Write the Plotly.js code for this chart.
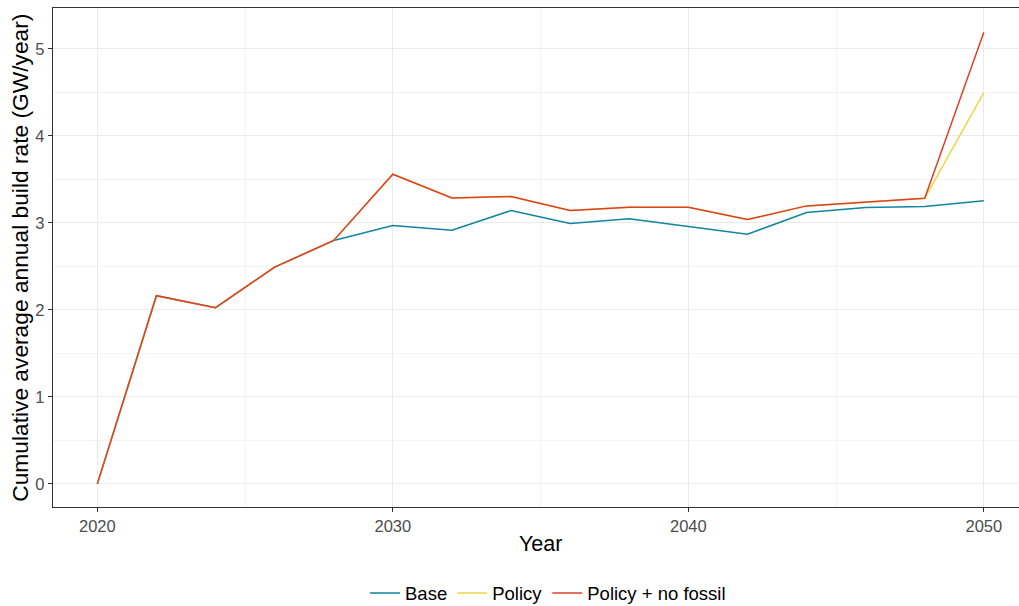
<!DOCTYPE html>
<html>
<head>
<meta charset="utf-8">
<script src="https://cdn.plot.ly/plotly-3.0.1.min.js"></script>
<style>html,body{margin:0;padding:0;background:#fff;}#chart{width:1019px;height:606px;}</style>
</head>
<body>
<div id="chart"></div>
<script>
const years = [2020, 2022, 2024, 2026, 2028, 2030, 2032, 2034, 2036, 2038, 2040, 2042, 2044, 2046, 2048, 2050];
const baseValues = [0, 2.163, 2.025, 2.492, 2.798, 2.970, 2.917, 3.142, 2.993, 3.047, 2.959, 2.871, 3.119, 3.177, 3.188, 3.254];
const policyValues = [0, 2.163, 2.025, 2.492, 2.798, 3.560, 3.288, 3.303, 3.142, 3.181, 3.181, 3.039, 3.196, 3.242, 3.284, 4.497];
const policyNoFossilValues = [0, 2.163, 2.025, 2.492, 2.798, 3.560, 3.288, 3.303, 3.142, 3.181, 3.181, 3.039, 3.196, 3.242, 3.284, 5.191];
const seriesNames = ["Base", "Policy", "Policy + no fossil"];
const seriesColors = ["#0F85A0", "#EDD746", "#DD4124"];
const xTickVals = [2020, 2030, 2040, 2050];
const yTickVals = [0, 1, 2, 3, 4, 5];

const allValues = [baseValues, policyValues, policyNoFossilValues];
const traces = allValues.map((vals, i) => ({
  x: years, y: vals, type: 'scatter', mode: 'lines',
  name: seriesNames[i],
  line: {color: seriesColors[i], width: 1.5},
  hoverinfo: 'skip'
}));

const font = "Liberation Sans, Arial, Helvetica, sans-serif";
const layout = {
  width: 1019, height: 606,
  margin: {l: 53, r: 0, t: 8, b: 98.5, autoexpand: false},
  paper_bgcolor: '#fff', plot_bgcolor: '#fff',
  font: {family: font, color: '#000'},
  showlegend: true,
  legend: {orientation: 'h', x: (548 - 53) / 966, xanchor: 'center', y: (507.5 - 594) / 499.5, yanchor: 'middle',
           font: {family: font, size: 18.5, color: '#000'}, itemwidth: 30, tracegroupgap: 0},
  xaxis: {
    range: [2018.5, 2051.19], tickvals: xTickVals, ticktext: xTickVals.map(String),
    showgrid: true, gridcolor: '#EBEBEB', gridwidth: 1,
    minor: {dtick: 5, tick0: 2015, showgrid: true, gridcolor: '#F4F4F4', gridwidth: 1, ticks: ''},
    zeroline: false, showline: true, linecolor: '#333333', linewidth: 1.2, mirror: true,
    ticks: 'outside', ticklen: 4, tickcolor: '#333333', tickwidth: 1,
    tickfont: {family: font, size: 16.5, color: '#4D4D4D'}
  },
  yaxis: {
    range: [-0.266, 5.471], tickvals: yTickVals, ticktext: yTickVals.map(String),
    showgrid: true, gridcolor: '#EBEBEB', gridwidth: 1,
    minor: {dtick: 0.5, tick0: 0.5, showgrid: true, gridcolor: '#F4F4F4', gridwidth: 1, ticks: ''},
    zeroline: false, showline: true, linecolor: '#333333', linewidth: 1.2, mirror: false,
    ticks: 'outside', ticklen: 4, tickcolor: '#333333', tickwidth: 1,
    tickfont: {family: font, size: 16.5, color: '#4D4D4D'}
  },
  annotations: [
    {text: 'Year', xref: 'paper', yref: 'paper', x: (540.5 - 53) / 966, y: (507.5 - 545) / 499.5,
     xanchor: 'center', yanchor: 'middle', showarrow: false, font: {family: font, size: 21.5, color: '#000'}},
    {text: 'Cumulative average annual build rate (GW/year)', xref: 'paper', yref: 'paper',
     x: (20 - 53) / 966, y: (507.5 - 258) / 499.5, textangle: -90,
     xanchor: 'center', yanchor: 'middle', showarrow: false, font: {family: font, size: 22.75, color: '#000'}}
  ]
};

Plotly.newPlot('chart', traces, layout, {displayModeBar: false, staticPlot: true});
</script>
</body>
</html>
